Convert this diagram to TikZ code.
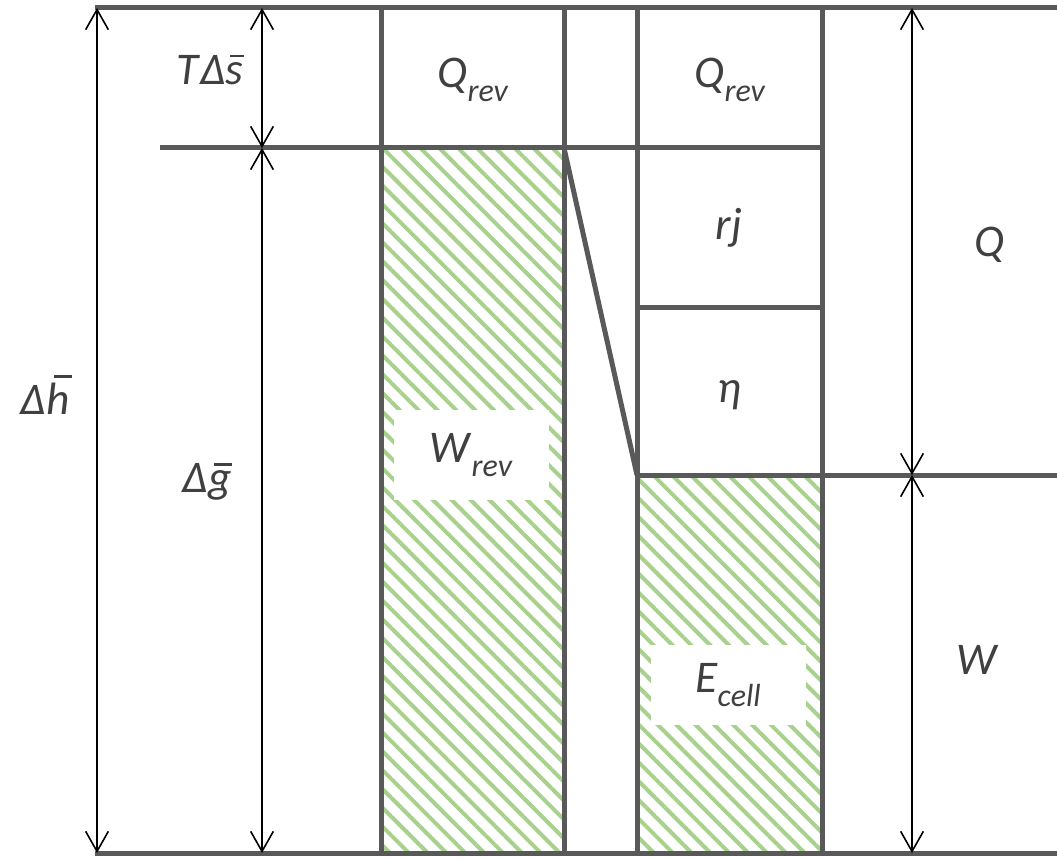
\documentclass[tikz,border=0pt]{standalone}
\usepackage{fontspec}
\setmainfont{Carlito}
\usetikzlibrary{arrows.meta,patterns.meta}

\definecolor{linegray}{HTML}{595959}
\definecolor{txtgray}{HTML}{404040}
\definecolor{hatchgreen}{HTML}{A9D18E}
\newcommand{\sublbl}[2]{\textit{#1}\raisebox{-0.3em}{\fontsize{24}{28}\selectfont\textit{#2}}}
% italic letter with a bar drawn over it (shift, raise)
\newsavebox{\barletter}
\newcommand{\barlbl}[3]{{\sbox{\barletter}{\itshape #1}%
  \rlap{\kern#2\raisebox{#3}{\rule{0.8\wd\barletter}{0.055em}}}\usebox{\barletter}}}

\begin{document}
\begin{tikzpicture}[x=0.75pt,y=-0.75pt,
    bar/.style={linegray,line width=3.75pt},
    dim/.style={black,line width=1.2pt,
      {Straight Barb[length=15pt,width=17pt]}-{Straight Barb[length=15pt,width=17pt]}},
    hatch/.style={pattern={Lines[angle=-45,distance=10pt,line width=3pt]},pattern color=hatchgreen},
    lab/.style={txtgray,font=\fontsize{34}{40}\selectfont},
    blank/.style={fill=white,inner sep=0pt}]
    \useasboundingbox (0,0) rectangle (1057,859);

    % hatched work columns
    \fill[hatch] (381,148) rectangle (564,853);
    \fill[hatch] (637,475) rectangle (822,853);
    \node[blank,minimum width=155*0.75pt,minimum height=90*0.75pt] (wbox) at (471,455) {};
    \node[blank,minimum width=155*0.75pt,minimum height=80*0.75pt] (ebox) at (728,685) {};

    % frame lines
    \draw[bar] (95,8) -- (1057,8);
    \draw[bar] (95,853) -- (1057,853);
    \draw[bar] (160,148) -- (822,148);
    \draw[bar] (637,308) -- (822,308);
    \draw[bar] (637,475) -- (1057,475);
    \draw[bar] (381,8) -- (381,853);
    \draw[bar] (564,8) -- (564,853);
    \draw[bar] (637,8) -- (637,853);
    \draw[bar] (822,8) -- (822,853);
    \draw[bar] (564,148) -- (637,475);

    % dimension arrows
    \coordinate (hTop) at (97,8);
    \coordinate (hBot) at (97,853);
    \coordinate (sTop) at (262,8);
    \coordinate (sBot) at (262,148);
    \coordinate (gBot) at (262,853);
    \coordinate (qTop) at (912,8);
    \coordinate (qBot) at (912,475);
    \coordinate (wBot) at (912,853);
    \draw[dim] (hTop) -- (hBot);
    \draw[dim] (sTop) -- (sBot);
    \draw[dim] (sBot) -- (gBot);
    \draw[dim] (qTop) -- (qBot);
    \draw[dim] (qBot) -- (wBot);

    % labels
    \node[lab] (tds) at (210,70) {\textit{T\kern1ptΔ}\barlbl{s}{0.1em}{0.6em}};
    \node[lab] (dh) at (45,395) {\textit{Δ}\barlbl{h}{0.17em}{0.82em}};
    \node[lab] (dg) at (207,482) {\textit{Δ}\barlbl{g}{0.12em}{0.6em}};
    \node[lab] (qrev1) at (473,80) {\sublbl{Q}{rev}};
    \node[lab] (qrev2) at (730,80) {\sublbl{Q}{rev}};
    \node[lab] (rj) at (729,228) {\textit{rj}};
    \node[lab] (eta) at (729,395) {\textit{η}};
    \node[lab] (q) at (990,245) {\textit{Q}};
    \node[lab] (w) at (978,660) {\textit{W}};
    \node[lab] (wrev) at (wbox) {\sublbl{W}{rev}};
    \node[lab] (ecell) at (ebox) {\sublbl{E}{cell}};
\end{tikzpicture}
\end{document}
